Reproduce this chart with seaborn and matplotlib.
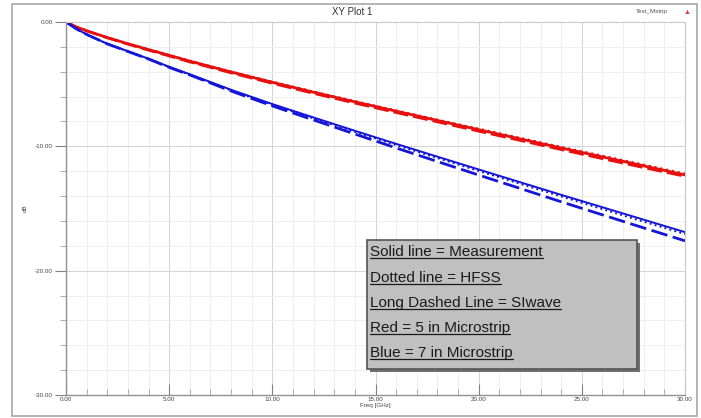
import numpy as np
import pandas as pd
import matplotlib
matplotlib.use("Agg")
import matplotlib.pyplot as plt
from matplotlib.patches import Rectangle
from matplotlib.lines import Line2D
from matplotlib.ticker import MultipleLocator
import seaborn as sns

# ---- data ----
freq = [0, 0.5, 1, 2, 3, 4, 5, 6, 8, 10, 12, 14, 16, 18, 20, 22, 24, 26, 28, 30]
red_meas = [0, -0.40, -0.70, -1.25, -1.75, -2.22, -2.68, -3.15, -4.02, -4.85, -5.65, -6.42, -7.17, -7.92, -8.66, -9.40, -10.13, -10.85, -11.57, -12.30]
red_hfss = [0, -0.40, -0.70, -1.24, -1.74, -2.20, -2.66, -3.12, -3.99, -4.81, -5.60, -6.37, -7.12, -7.86, -8.59, -9.32, -10.05, -10.76, -11.48, -12.20]
red_siwave = [0, -0.41, -0.72, -1.28, -1.79, -2.27, -2.74, -3.22, -4.10, -4.94, -5.75, -6.53, -7.29, -8.04, -8.79, -9.53, -10.27, -11.00, -11.72, -12.42]
blue_meas = [0, -0.55, -1.00, -1.75, -2.35, -2.95, -3.60, -4.20, -5.45, -6.60, -7.68, -8.75, -9.80, -10.83, -11.86, -12.88, -13.90, -14.90, -15.90, -16.90]
blue_hfss = [0, -0.55, -1.00, -1.76, -2.37, -2.98, -3.63, -4.24, -5.50, -6.66, -7.76, -8.84, -9.90, -10.94, -11.98, -13.01, -14.03, -15.05, -16.06, -17.06]
blue_siwave = [0, -0.55, -1.00, -1.76, -2.37, -2.98, -3.65, -4.26, -5.55, -6.75, -7.88, -9.01, -10.13, -11.22, -12.31, -13.38, -14.46, -15.51, -16.56, -17.60]

xticks = [0, 5, 10, 15, 20, 25, 30]
xticklabels = ["0.00", "5.00", "10.00", "15.00", "20.00", "25.00", "30.00"]
yticks = [0, -10, -20, -30]
yticklabels = ["0.00", "-10.00", "-20.00", "-30.00"]
legend_lines = ["Solid line = Measurement", "Dotted line = HFSS",
                "Long Dashed Line = SIwave", "Red = 5 in Microstrip",
                "Blue = 7 in Microstrip"]

df = pd.DataFrame({"freq": freq})

sns.set_style("white")
plt.rcParams["font.family"] = ["Liberation Sans", "DejaVu Sans"]

W, H = 701, 418
fig = plt.figure(figsize=(W / 100, H / 100), dpi=100)

def fx(px):
    return px / W

def fy(py):
    return 1 - py / H

ax = fig.add_axes([fx(66), fy(395), fx(685) - fx(66), fy(22) - fy(395)])

RED = "#e80f0f"
BLUE = "#1515d8"
series = [
    (red_meas, RED, "-", 2.0),
    (red_hfss, RED, ":", 1.6),
    (red_siwave, RED, (0, (6, 2)), 1.8),
    (blue_meas, BLUE, "-", 1.4),
    (blue_hfss, BLUE, ":", 1.4),
    (blue_siwave, BLUE, (0, (6, 2)), 2.0),
]
for vals, col, ls, lw in series:
    sns.lineplot(x=df["freq"], y=vals, ax=ax, color=col, linestyle=ls,
                 linewidth=lw, legend=False)

ax.set_xlim(0, 30)
ax.set_ylim(-30, 0)
ax.set_xticks(xticks)
ax.set_xticklabels(xticklabels)
ax.set_yticks(yticks)
ax.set_yticklabels(yticklabels)
ax.xaxis.set_minor_locator(MultipleLocator(1))
ax.yaxis.set_minor_locator(MultipleLocator(2))
ax.grid(True, which="major", color="#d4d4d4", linewidth=0.7)
ax.grid(True, which="minor", color="#ececec", linewidth=0.6)
ax.tick_params(axis="both", which="major", labelsize=4.5, length=8,
               width=0.8, color="#808080", labelcolor="#444444", pad=1.5)
ax.tick_params(axis="both", which="minor", length=4, width=0.6,
               color="#a0a0a0")
ax.tick_params(axis="y", which="both", direction="out", left=True)
ax.tick_params(axis="x", which="both", direction="in", bottom=True)
for s in ["left", "bottom"]:
    ax.spines[s].set_color("#909090")
    ax.spines[s].set_linewidth(1.0)
for s in ["top", "right"]:
    ax.spines[s].set_color("#c8c8c8")
    ax.spines[s].set_linewidth(0.8)
ax.set_xlabel("Freq [GHz]", fontsize=4.5, color="#444444", labelpad=0.5)
ax.set_ylabel("dB", fontsize=4.5, color="#444444", labelpad=5)

# outer frame
fig.patches.append(Rectangle((fx(12), fy(416)), fx(697) - fx(12), fy(4) - fy(416),
                             transform=fig.transFigure, fill=False,
                             edgecolor="#a8a8a8", linewidth=1.2))

fig.text(fx(352), fy(12), "XY Plot 1", fontsize=7, ha="center", va="center",
         color="#333333")
fig.text(fx(668), fy(12), "Test_Mstrip", fontsize=4.5, ha="right",
         va="center", color="#555555")
fig.text(fx(687), fy(12), "\u25B2", fontsize=5, ha="center", va="center",
         color="#d04040")

# annotation box with shadow
bx0, by0, bx1, by1 = 367, 240, 637, 369
fig.patches.append(Rectangle((fx(bx0 + 3), fy(by1 + 3)), fx(bx1 - bx0), fy(by0) - fy(by1),
                             transform=fig.transFigure, facecolor="#707070",
                             edgecolor="none", zorder=5))
fig.patches.append(Rectangle((fx(bx0), fy(by1)), fx(bx1 - bx0), fy(by0) - fy(by1),
                             transform=fig.transFigure, facecolor="#c0c0c0",
                             edgecolor="#555555", linewidth=1.2, zorder=6))

ys = [252, 278, 303, 328, 353]
texts = []
for yy, s in zip(ys, legend_lines):
    t = fig.text(fx(370), fy(yy), s, fontsize=11, ha="left", va="center",
                 color="#1a1a1a", zorder=7)
    texts.append(t)

fig.canvas.draw()
renderer = fig.canvas.get_renderer()
inv = fig.transFigure.inverted()
for t in texts:
    bb = t.get_window_extent(renderer)
    (x0, y0), (x1, _) = inv.transform([(bb.x0, bb.y0 + 1.5), (bb.x1, bb.y0)])
    fig.lines.append(Line2D([x0, x1], [y0, y0], transform=fig.transFigure,
                            color="#1a1a1a", linewidth=0.9, zorder=7))

fig.savefig("out.png", dpi=100)
